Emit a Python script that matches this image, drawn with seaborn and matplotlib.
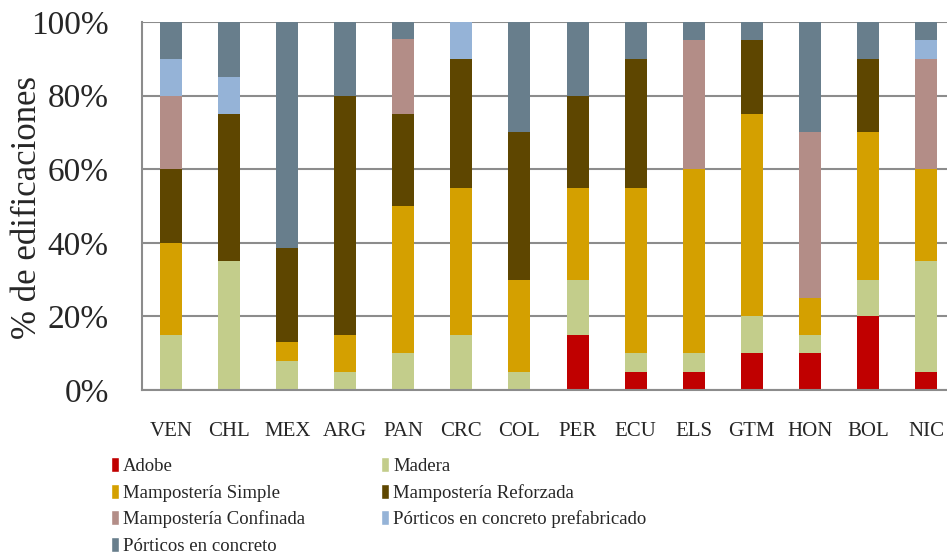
import numpy as np
import pandas as pd
import matplotlib
matplotlib.use("Agg")
import matplotlib.pyplot as plt
import seaborn as sns
from matplotlib.patches import Patch

paises = ["VEN", "CHL", "MEX", "ARG", "PAN", "CRC", "COL",
          "PER", "ECU", "ELS", "GTM", "HON", "BOL", "NIC"]

# porcentajes por tipologia (de abajo hacia arriba)
adobe      = [0, 0, 0, 0, 0, 0, 0, 15, 5, 5, 10, 10, 20, 5]
madera     = [15, 35, 8, 5, 10, 15, 5, 15, 5, 5, 10, 5, 10, 30]
simple     = [25, 0, 5, 10, 40, 40, 25, 25, 45, 50, 55, 10, 40, 25]
reforzada  = [20, 40, 25.5, 65, 25, 35, 40, 25, 35, 0, 20, 0, 20, 0]
confinada  = [20, 0, 0, 0, 20.5, 0, 0, 0, 0, 35, 0, 45, 0, 30]
prefab     = [10, 10, 0, 0, 0, 10, 0, 0, 0, 0, 0, 0, 0, 5]
porticos   = [10, 15, 61.5, 20, 4.5, 0, 30, 20, 10, 5, 5, 30, 10, 5]

tipos = ["Adobe", "Madera", "Mampostería Simple", "Mampostería Reforzada",
         "Mampostería Confinada", "Pórticos en concreto prefabricado",
         "Pórticos en concreto"]
colores = ["#C00000", "#C3CD8B", "#D4A000", "#5E4600",
           "#B38D87", "#95B3D7", "#687E8C"]

df = pd.DataFrame({"pais": paises, "Adobe": adobe, "Madera": madera,
                   "Mampostería Simple": simple,
                   "Mampostería Reforzada": reforzada,
                   "Mampostería Confinada": confinada,
                   "Pórticos en concreto prefabricado": prefab,
                   "Pórticos en concreto": porticos})

sns.set_style("white")
plt.rcParams["font.family"] = ["Liberation Serif", "DejaVu Serif"]

fig = plt.figure(figsize=(9.47, 5.56), dpi=100)
ax = fig.add_axes([142 / 947, 1 - 390 / 556, 813 / 947, 368 / 556])

base = np.zeros(len(paises))
for tipo, col in zip(tipos, colores):
    sns.barplot(data=df, x="pais", y=tipo, color=col, width=0.38,
                bottom=base, linewidth=0, saturation=1, ax=ax)
    base = base + df[tipo].to_numpy()

gris = "#8C8C8C"
ax.set_ylim(0, 100)
ax.set_xlim(-0.5, len(paises) - 0.5)
ax.set_yticks(range(0, 101, 20))
ax.set_yticklabels([f"{v}%" for v in range(0, 101, 20)], fontsize=24)
ax.yaxis.grid(True, color=gris, linewidth=1.5)
ax.set_axisbelow(True)
ax.tick_params(axis="y", length=9, width=1.5, color=gris, pad=15)
ax.set_xticks(range(len(paises)))
ax.set_xticklabels(paises, fontsize=15)
ax.tick_params(axis="x", length=0, pad=23)
ax.set_xticks(np.arange(len(paises) + 1) - 0.5, minor=True)
ax.tick_params(axis="x", which="minor", length=5, width=1.5, color=gris)
ax.set_xlabel("")
ax.set_ylabel("% de edificaciones", fontsize=25)
ax.yaxis.set_label_coords(-0.12, 0.495)
for s in ["top", "right"]:
    ax.spines[s].set_visible(False)
for s in ["left", "bottom"]:
    ax.spines[s].set_color(gris)
    ax.spines[s].set_linewidth(1.5)

handles = [Patch(facecolor=c, label=t) for t, c in zip(tipos, colores)]
kw = dict(frameon=False, fontsize=13.5, handlelength=0.45, handleheight=0.85,
          handletextpad=0.2, labelspacing=0.46, borderpad=0, borderaxespad=0,
          bbox_transform=fig.transFigure, loc="upper left")
leg1 = fig.legend(handles=[handles[i] for i in (0, 2, 4, 6)],
                  bbox_to_anchor=(111 / 947, 1 - 457 / 556), **kw)
leg2 = fig.legend(handles=[handles[i] for i in (1, 3, 5)],
                  bbox_to_anchor=(381 / 947, 1 - 457 / 556), **kw)

fig.savefig("out.png", dpi=100)
